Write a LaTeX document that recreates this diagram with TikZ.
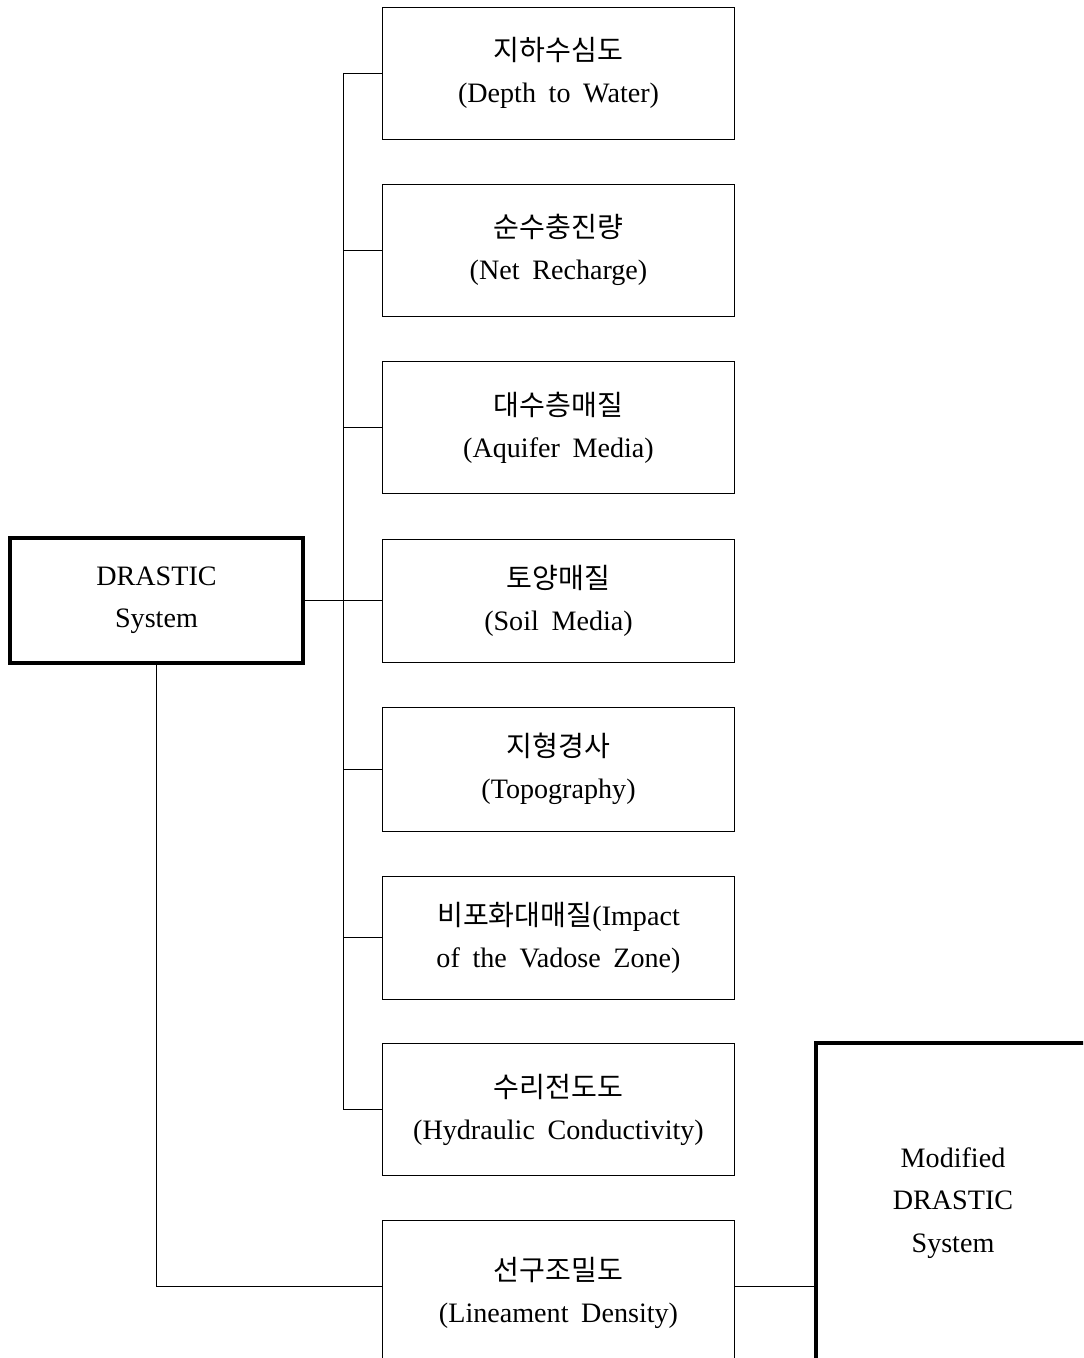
\documentclass[tikz,border=0pt]{standalone}
\usepackage{fontspec}
\setmainfont{Liberation Serif}[WordSpace=1.8]
\newfontfamily\kr{Noto Sans CJK KR}

\begin{document}
\begin{tikzpicture}[x=0.02cm, y=-0.02cm,
		every node/.style={font=\fontsize{16}{24}\selectfont},
		factor/.style={draw, line width=0.55pt, minimum width=7.06cm, minimum height=2.64cm, align=center, inner sep=0pt},
		system/.style={draw, line width=2pt, align=center, inner sep=0pt},
		link/.style={line width=0.55pt}]
		\clip (0,0) rectangle (1083,1358);
		\fill[white] (0,0) rectangle (1083,1358);

		\node[system, minimum width=5.86cm, minimum height=2.5cm] (drastic) at (156.5,600.5) {DRASTIC\\System};
		\node[system, minimum width=5.48cm, minimum height=6.4cm] (mod) at (953,1203) {Modified\\DRASTIC\\System};

		\node[factor] (dep) at (558.5,73) {{\kr 지하수심도}\\(Depth to Water)};
		\node[factor] (rech) at (558.5,250) {{\kr 순수충진량}\\(Net Recharge)};
		\node[factor] (aqu) at (558.5,427.5) {{\kr 대수층매질}\\(Aquifer Media)};
		\node[factor, minimum height=2.46cm] (soil) at (558.5,600.5) {{\kr 토양매질}\\(Soil Media)};
		\node[factor, minimum height=2.48cm] (topo) at (558.5,769) {{\kr 지형경사}\\(Topography)};
		\node[factor, minimum height=2.46cm] (vad) at (558.5,937.5) {{\kr 비포화대매질}(Impact\\of the Vadose Zone)};
		\node[factor] (hyd) at (558.5,1109.5) {{\kr 수리전도도}\\(Hydraulic Conductivity)};
		\node[factor, minimum height=2.92cm] (lin) at (558.5,1293) {{\kr 선구조밀도}\\(Lineament Density)};

		\coordinate (bus) at (343,0);
		\coordinate (lj) at (0,1286);

		\draw[link] (bus |- dep.west) -- (bus |- hyd.west);
		\foreach \n in {dep,rech,aqu,soil,topo,vad,hyd}{
			\draw[link] (bus |- \n.west) -- (\n.west);
		}
		\draw[link] (drastic.east) -- (soil.west);
		\draw[link] (drastic.south) |- (lin.west |- lj);
		\draw[link] (lin.east |- lj) -- (mod.west |- lj);
	\end{tikzpicture}
\end{document}
